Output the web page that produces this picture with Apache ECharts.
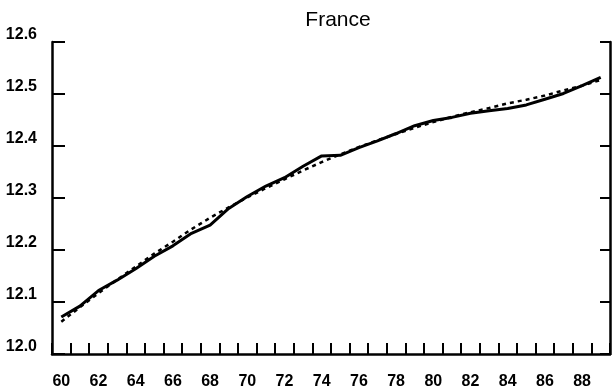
<!DOCTYPE html>
<html>
<head>
<meta charset="utf-8">
<script src="https://cdn.jsdelivr.net/npm/echarts@6/dist/echarts.min.js"></script>
<style>
  html, body { margin: 0; padding: 0; background: #fff; }
  #chart { width: 612px; height: 391px; }
</style>
</head>
<body>
<div id="chart"></div>
<script>
// Years 1960–1989, labelled by their last two digits
const years = ['60','61','62','63','64','65','66','67','68','69',
               '70','71','72','73','74','75','76','77','78','79',
               '80','81','82','83','84','85','86','87','88','89'];

// Actual series (solid line)
const actual = [12.071, 12.092, 12.122, 12.142, 12.164, 12.188, 12.208, 12.232, 12.248, 12.280,
                12.303, 12.323, 12.339, 12.361, 12.381, 12.382, 12.397, 12.410, 12.424, 12.439,
                12.449, 12.455, 12.463, 12.468, 12.472, 12.479, 12.490, 12.501, 12.516, 12.532];

// Trend series (dashed line)
const trend = [12.062, 12.090, 12.117, 12.143, 12.168, 12.193, 12.216, 12.240, 12.262, 12.282,
               12.301, 12.319, 12.336, 12.353, 12.369, 12.384, 12.398, 12.411, 12.423, 12.435,
               12.446, 12.456, 12.465, 12.473, 12.482, 12.489, 12.497, 12.507, 12.516, 12.527];

// Y-axis range and step
const yMin = 12.0, yMax = 12.6, yStep = 0.1;

const FONT = "'Liberation Sans', Arial, Helvetica, sans-serif";
const chart = echarts.init(document.getElementById('chart'), null, { renderer: 'canvas' });

chart.setOption({
  backgroundColor: '#ffffff',
  animation: false,
  title: {
    text: 'France',
    left: 333,
    textAlign: 'center',
    top: 5,
    textStyle: { fontFamily: FONT, fontSize: 21, fontWeight: 'normal', color: '#000' }
  },
  grid: { left: 52, right: 2, top: 42, bottom: 37 },
  xAxis: {
    type: 'category',
    data: years,
    boundaryGap: true,
    axisLine: { show: true, lineStyle: { color: '#000', width: 2.5 } },
    axisTick: { show: true, inside: true, length: 11, interval: 0, lineStyle: { color: '#000', width: 2 } },
    axisLabel: {
      interval: 1, margin: 20,
      fontFamily: FONT, fontSize: 16, fontWeight: 'bold', color: '#000'
    },
    splitLine: { show: false }
  },
  yAxis: [
    {
      type: 'value', position: 'left',
      min: yMin, max: yMax, interval: yStep,
      axisLine: { show: true, lineStyle: { color: '#000', width: 2.5 } },
      axisTick: { show: true, inside: true, length: 13, lineStyle: { color: '#000', width: 2 } },
      axisLabel: {
        margin: 15, verticalAlign: 'bottom', lineHeight: 15,
        fontFamily: FONT, fontSize: 16, fontWeight: 'bold', color: '#000',
        formatter: v => v.toFixed(1)
      },
      splitLine: { show: false }
    },
    {
      type: 'value', position: 'right',
      min: yMin, max: yMax, interval: yStep,
      axisLine: { show: true, lineStyle: { color: '#000', width: 2.5 } },
      axisTick: { show: true, inside: true, length: 10, lineStyle: { color: '#000', width: 2 } },
      axisLabel: { show: false },
      splitLine: { show: false }
    }
  ],
  series: [
    {
      name: 'trend', type: 'line', data: trend,
      showSymbol: false, symbol: 'none',
      lineStyle: { color: '#000', width: 2.5, type: [4, 4] },
      z: 2
    },
    {
      name: 'actual', type: 'line', data: actual,
      showSymbol: false, symbol: 'none',
      lineStyle: { color: '#000', width: 3 },
      z: 3
    }
  ]
});
</script>
</body>
</html>
